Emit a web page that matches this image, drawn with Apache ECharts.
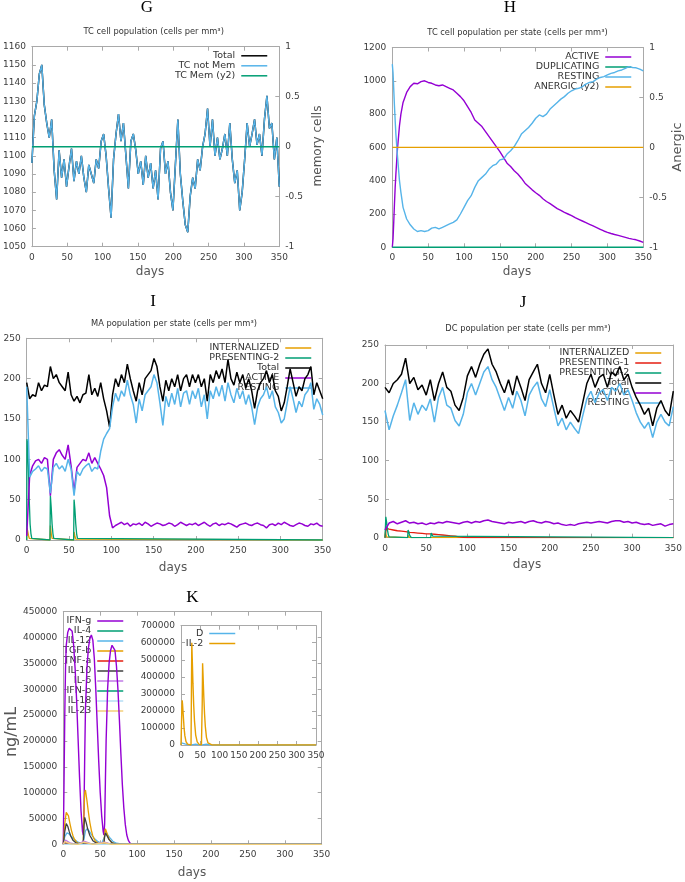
<!DOCTYPE html>
<html><head><meta charset="utf-8">
<script src="https://cdn.jsdelivr.net/npm/echarts@6/dist/echarts.min.js"></script>
<style>html,body{margin:0;padding:0;background:#fff}#c{width:685px;height:882px}</style>
</head><body><div id="c"></div>
<script>
// ---------- DATA ----------
// Panel G: TC cell population (sampled every 3.5 days, 0..350)
const gStep = 3.5;
const gTCnotMem = [1096,1122,1130,1145,1150,1128,1118,1110,1120,1092,1076,1103,1088,1098,1083,1094,1104,1086,1097,1090,
  1100,1088,1080,1095,1090,1085,1098,1093,1108,1112,1100,1082,1066,1098,1112,1123,1108,1118,1100,1082,
  1108,1112,1103,1090,1097,1084,1100,1088,1096,1082,1092,1076,1104,1108,1090,1097,1080,1070,1095,1120,
  1090,1075,1062,1058,1078,1088,1082,1098,1092,1105,1112,1126,1105,1120,1100,1110,1098,1104,1112,1100,
  1118,1098,1085,1092,1070,1080,1098,1118,1105,1112,1120,1106,1112,1100,1120,1133,1115,1118,1098,1110,1083];
const gTCMem = [0, 0];
const gTCMemDays = [0, 350];

// Panel H: TC cell population per state
const hDays = [0,1,2,3,4,5,7,10,12,15,20,25,30,35,40,45,50,55,60,65,70,75,80,85,90,95,100,105,110,115,120,125,130,135,140,145,150,155,160,165,170,175,180,185,190,195,200,205,210,215,220,225,230,235,240,245,250,255,260,265,270,275,280,285,290,295,300,305,310,315,320,325,330,335,340,345,350];
const hActive = [0,50,150,260,360,440,580,730,800,870,930,965,985,982,995,1000,990,985,975,970,975,965,955,945,925,905,880,845,810,765,745,725,695,665,635,605,575,540,505,485,460,440,415,385,365,345,328,312,292,275,262,247,232,222,210,200,190,178,168,158,148,138,128,118,108,98,90,83,77,72,66,60,54,49,45,38,30];
const hResting = [1100,1050,950,850,760,680,560,400,330,240,170,135,110,95,100,95,100,115,120,110,120,130,140,150,165,200,240,280,310,360,400,420,440,470,490,500,525,530,560,580,605,640,680,700,720,745,775,795,785,800,830,850,870,890,905,925,940,950,955,965,980,990,995,1010,1020,1025,1035,1045,1050,1060,1065,1075,1085,1080,1078,1070,1060];

// Panel I: MA population per state (sampled every 3.5 days)
const iStep = 3.5;
const iTotal = [195,175,180,178,195,185,192,190,215,200,205,195,190,185,208,180,172,178,170,180,
  182,205,180,188,178,195,175,160,140,180,200,190,205,195,218,200,185,172,195,180,
  200,205,210,225,215,190,172,198,185,200,190,205,185,200,205,190,205,195,205,190,
  200,172,205,195,210,200,212,195,224,200,192,208,195,205,188,200,185,163,185,195,
  200,210,195,205,185,178,160,170,190,212,195,178,190,185,200,205,215,180,195,185,175];
const iResting = [190,78,85,88,92,85,90,88,58,90,95,88,92,85,100,88,55,85,80,88,
  92,95,85,90,88,110,125,132,138,165,182,172,185,178,198,180,168,145,175,160,
  180,185,190,205,195,170,142,178,165,182,168,188,165,182,185,168,185,175,188,165,
  180,150,185,175,190,178,192,172,195,180,170,188,175,185,168,180,165,143,165,175,
  180,190,175,185,165,158,145,150,170,190,175,158,172,165,180,185,195,162,175,168,155];
const iActive = [5,80,92,98,100,95,102,100,55,100,108,112,105,100,118,92,60,90,95,100,98,108,95,102,95,88,80,65,30,15,
  18,20,22,19,21,17,20,19,21,18,22,20,17,19,21,20,18,19,21,20,17,19,22,20,18,20,19,21,18,20,
  22,19,17,20,21,18,20,19,21,20,18,16,19,20,21,19,18,20,21,19,18,15,19,20,18,21,19,22,20,18,
  17,19,21,20,18,17,20,19,21,18,17];
const iPres2Days = [0,0.3,1,2,3,4,5,6,8,27.5,28,29,30,31,32,34,55.5,56,57,58,59,60,62,350];
const iPres2 = [0,125,120,90,50,20,8,2,0,0,55,40,20,8,2,0,0,50,38,20,8,2,0,0];
const iIntDays = [0,0.3,1,2,3,4,27.5,28,29,30,31,55.5,56,57,58,59,350];
const iInt = [0,15,12,6,2,0,0,18,8,2,0,0,10,5,1,0,0];

// Panel J: DC population per state (sampled every 5 days)
const jStep = 5;
const jTotal = [195,188,200,205,212,233,200,208,192,198,185,205,178,200,215,195,190,172,165,182,
  210,222,208,225,238,245,225,215,200,188,205,185,210,195,178,205,215,225,200,188,
  212,185,160,172,155,165,158,150,175,200,212,195,208,212,195,215,210,222,205,212,
  195,182,172,160,168,145,168,178,165,158,190];
const jResting = [165,140,158,172,188,205,152,175,160,172,165,180,150,182,195,172,168,152,145,160,
  188,200,185,200,215,222,205,195,180,165,182,168,190,178,158,185,195,202,180,170,
  192,168,145,155,140,150,142,135,158,180,190,175,188,192,178,195,190,200,185,192,
  178,162,150,142,150,130,150,160,150,145,170];
const jActive = [10,19,21,18,20,22,19,20,18,19,17,19,18,20,19,21,20,19,18,20,
  21,19,21,20,22,23,21,20,19,18,20,19,20,21,19,21,22,20,19,21,
  20,18,19,17,16,17,16,18,19,20,19,20,21,20,19,21,22,22,20,21,
  19,20,18,17,18,16,17,18,15,17,18];
const jPres1Days = [0,1,2,5,10,15,20,25,30,35,40,45,50,55,60,65,70,75,80,85,90,95,100,350];
const jPres1 = [0,8,12,11,10,9,8.5,8,7,6.5,6,5.5,5,5,4.5,4,3.5,3,2.5,2,1,0.5,0,0];
const jPres2Days = [0,1,2,3,4,5,6,27.5,28,29,30,31,32,55.5,56,57,58,59,60,350];
const jPres2 = [0,27,20,10,4,1,0,0,10,7,3,1,0,0,6,4,2,0.5,0,0];
const jIntDays = [0,0.5,1,2,3,27.5,28,29,30,55.5,56,57,58,350];
const jInt = [0,8,5,1,0,0,3,1,0,0,2,0.5,0,0];

// Panel K: cytokines (ng/mL)
const kIFNgDays = [0,1,2,3,4,6,8,10,12,14,16,18,20,22,24,26,27,28,29,30,32,34,36,38,40,42,44,46,48,50,52,54,55,56,57,58,60,62,64,66,68,70,72,74,76,78,80,82,84,86,88,90,93,350];
const kIFNg = [0,120000,250000,340000,385000,410000,418000,420000,412000,385000,340000,280000,205000,130000,65000,25000,18000,60000,170000,260000,340000,380000,398000,405000,395000,360000,300000,230000,160000,100000,55000,25000,18000,40000,120000,200000,300000,350000,375000,385000,386000,375000,345000,300000,240000,175000,115000,70000,38000,18000,8000,3000,0,0];
const kTGFbDays = [0,2,4,5,7,9,11,13,15,18,22,27,28,29,30,32,34,36,38,40,43,47,55,56,57,58,60,62,65,70,75,350];
const kTGFb = [0,40000,62000,65000,55000,40000,27000,17000,10000,4000,1000,0,60000,100000,105000,85000,62000,42000,27000,16000,7000,2000,0,20000,30000,28000,18000,10000,4000,1000,0,0];
const kIL10Days = [0,2,4,6,8,10,13,17,22,27,28,29,31,33,36,40,45,55,56,57,59,62,66,72,80,350];
const kIL10 = [0,25000,40000,35000,25000,16000,8000,3000,500,0,35000,52000,42000,30000,17000,7000,2000,0,15000,22000,17000,9000,3000,500,0,0];
const kIL12Days = [0,2,5,8,11,15,20,25,28,30,32,35,38,42,47,52,56,58,60,63,67,72,80,90,350];
const kIL12 = [0,15000,22000,20000,15000,9000,4000,1500,10000,26000,30000,26000,19000,11000,5000,2000,15000,22000,20000,13000,6000,2000,300,0,0];
const kTNFaDays = [0,3,8,15,28,35,40,56,62,350];
const kTNFa = [0,3000,1000,0,3000,500,0,2000,0,0];
const kIL4Days = [0,4,15,28,40,56,70,350];
const kIL4 = [0,2000,500,3000,0,2000,0,0];
const kIL6Days = [0,3,10,20,28,40,56,66,350];
const kIL6 = [0,8000,2000,0,6000,0,4000,0,0];
const kIFNbDays = [0,350];
const kIFNb = [0,0];
const kIL18Days = [0,350];
const kIL18 = [0,0];
const kIL23Days = [0,2,10,20,28,40,56,65,350];
const kIL23 = [0,5000,1000,0,4000,0,3000,0,0];
// inset
const kDDays = [0,1,5,10,15,20,27,28,32,38,45,55,56,60,66,73,80,90,350];
const kD = [0,12000,10000,6000,3000,1000,500,12000,9000,5000,1500,500,12000,9000,5000,1500,300,0,0];
const kIL2Days = [0,2,3,4,6,8,10,13,17,22,26,27,28,29,31,33,35,38,42,47,53,54,55,56,57,59,61,63,66,70,75,80,85,350];
const kIL2 = [0,200000,262000,240000,170000,100000,55000,20000,5000,500,0,300000,600000,520000,360000,230000,140000,60000,18000,4000,300,0,240000,480000,420000,290000,185000,110000,45000,12000,2000,300,0,0];

// ---------- HELPERS ----------
function pairs(xs, ys){const n=Math.min(xs.length,ys.length);const o=[];for(let i=0;i<n;i++)o.push([xs[i],ys[i]]);return o;}
function stepPairs(step, ys){return ys.map((v,i)=>[i*step,v]);}
const plain = v => String(v);

const FONT='DejaVu Sans';
const BORDER='#a9a9a9';
const LBL='#3c3c3c';
const C={purple:'#9400D3',green:'#009E73',blue:'#56B4E9',orange:'#E69F00',red:'#E51E10',black:'#000000',grey:'#404040',lpurple:'#c07ae6',lblue:'#b5def5',lorange:'#f3cf7a'};

const grids=[
  {left:28.3,top:46.7,width:251,height:200},      // G 0
  {left:392.3,top:47.5,width:251,height:199.8},   // H 1
  {left:26.7,top:338.3,width:296,height:201.7},   // I 2
  {left:385,top:345,width:288.3,height:192.7},    // J 3
  {left:63.3,top:611.7,width:258.4,height:232.6}, // K 4
  {left:181,top:625.7,width:135,height:119.3}     // K inset 5
];

const xAxes=[], yAxes=[];
function xPair(g){
  const base={gridIndex:g,type:'value',min:0,max:350,interval:50,
    axisLine:{show:true,onZero:false,lineStyle:{color:BORDER,width:1}},
    axisTick:{show:true,inside:true,length:4,lineStyle:{color:BORDER}},
    splitLine:{show:false}};
  xAxes.push(Object.assign({},base,{position:'bottom',axisLabel:{color:LBL,fontSize:9,fontFamily:FONT,margin:6,formatter:plain}}));
  xAxes.push(Object.assign({},base,{position:'top',axisLabel:{show:false}}));
}
function yPair(g, min, max, interval, right){
  const base={gridIndex:g,type:'value',
    axisLine:{show:true,onZero:false,lineStyle:{color:BORDER,width:1}},
    axisTick:{show:true,inside:true,length:4,lineStyle:{color:BORDER}},
    splitLine:{show:false}};
  yAxes.push(Object.assign({},base,{position:'left',min,max,interval,
    axisLabel:{color:LBL,fontSize:9,fontFamily:FONT,margin:6,formatter:plain}}));
  if(right){
    yAxes.push(Object.assign({},base,{position:'right',min:right.min,max:right.max,interval:right.interval,
      axisLabel:{color:LBL,fontSize:9,fontFamily:FONT,margin:6,formatter:plain}}));
  } else {
    yAxes.push(Object.assign({},base,{position:'right',min,max,interval,axisLabel:{show:false}}));
  }
}
xPair(0); yPair(0,1050,1160,10,{min:-1,max:1,interval:0.5});
xPair(1); yPair(1,0,1200,200,{min:-1,max:1,interval:0.5});
xPair(2); yPair(2,0,250,50,null);
xPair(3); yPair(3,0,250,50,null);
xPair(4); yPair(4,0,450000,50000,null);
xPair(5); yPair(5,0,700000,100000,null);

function line(name, g, data, color, opts){
  opts=opts||{};
  return {name,type:'line',xAxisIndex:2*g,yAxisIndex:2*g+(opts.y2?1:0),data,
    symbol:'none',showSymbol:false,animation:false,silent:true,
    lineStyle:{color,width:opts.width||1.3},itemStyle:{color},z:opts.z||2};
}

const series=[
  // G
  line('Total',0,stepPairs(gStep,gTCnotMem),C.black,{width:1.5}),
  line('TC not Mem',0,stepPairs(gStep,gTCnotMem),C.blue,{width:1.4}),
  line('TC Mem (y2)',0,pairs(gTCMemDays,gTCMem),C.green,{y2:true,width:1.4}),
  // H
  line('ACTIVE',1,pairs(hDays,hActive),C.purple,{width:1.4}),
  line('DUPLICATING',1,pairs([0,350],[0,0]),C.green,{width:1.4}),
  line('RESTING',1,pairs(hDays,hResting),C.blue,{width:1.4}),
  line('ANERGIC (y2)',1,pairs([0,350],[0,0]),C.orange,{y2:true,width:1.4}),
  // I
  line('INTERNALIZED',2,pairs(iIntDays,iInt),C.orange),
  line('PRESENTING-2',2,pairs(iPres2Days,iPres2),C.green),
  line('Total',2,stepPairs(iStep,iTotal),C.black,{width:1.5}),
  line('ACTIVE',2,stepPairs(iStep,iActive),C.purple,{width:1.5}),
  line('RESTING',2,stepPairs(iStep,iResting),C.blue,{width:1.5}),
  // J
  line('INTERNALIZED',3,pairs(jIntDays,jInt),C.orange),
  line('PRESENTING-1',3,pairs(jPres1Days,jPres1),C.red),
  line('PRESENTING-2',3,pairs(jPres2Days,jPres2),C.green),
  line('Total',3,stepPairs(jStep,jTotal),C.black,{width:1.5}),
  line('ACTIVE',3,stepPairs(jStep,jActive),C.purple,{width:1.5}),
  line('RESTING',3,stepPairs(jStep,jResting),C.blue,{width:1.5}),
  // K main
  line('IFN-g',4,pairs(kIFNgDays,kIFNg),C.purple,{width:1.4}),
  line('IL-4',4,pairs(kIL4Days,kIL4),C.green),
  line('IL-12',4,pairs(kIL12Days,kIL12),C.blue),
  line('TGF-b',4,pairs(kTGFbDays,kTGFb),C.orange),
  line('TNF-a',4,pairs(kTNFaDays,kTNFa),C.red),
  line('IL-10',4,pairs(kIL10Days,kIL10),C.grey),
  line('IL-6',4,pairs(kIL6Days,kIL6),C.lpurple),
  line('IFN-b',4,pairs(kIFNbDays,kIFNb),C.green),
  line('IL-18',4,pairs(kIL18Days,kIL18),C.lblue),
  line('IL-23',4,pairs(kIL23Days,kIL23),C.lorange),
  // K inset
  line('D',5,pairs(kDDays,kD),C.blue),
  line('IL-2',5,pairs(kIL2Days,kIL2),C.orange,{width:1.4})
];

function legend(names, right, top, gap){
  return {data:names,orient:'vertical',right,top,align:'right',itemWidth:26,itemHeight:gap,itemGap:0,
    selectedMode:false,z:1,padding:0,
    itemStyle:{opacity:0,borderWidth:0},
    lineStyle:{width:1.5},
    textStyle:{fontSize:9.5,color:'#333',fontFamily:FONT,padding:[0,1,0,0]}};
}
const legends=[
  legend(['Total','TC not Mem','TC Mem (y2)'],417,50.8,10.8),
  legend(['ACTIVE','DUPLICATING','RESTING','ANERGIC (y2)'],53,52,10.7),
  legend(['INTERNALIZED','PRESENTING-2','Total','ACTIVE','RESTING'],373,343,10.8),
  legend(['INTERNALIZED','PRESENTING-1','PRESENTING-2','Total','ACTIVE','RESTING'],23,348,10.2),
  legend(['IFN-g','IL-4','IL-12','TGF-b','TNF-a','IL-10','IL-6','IFN-b','IL-18','IL-23'],561,616,10.9),
  legend(['D','IL-2'],449,628.5,11)
];

function txt(text,x,y,font,fill,rot){
  const el={type:'text',x,y,silent:true,style:{text,font,fill:fill||'#333',align:'center',verticalAlign:'middle'}};
  if(rot) el.rotation=rot;
  return el;
}
const SERIF='17px "Liberation Serif"';
const SUB='8.3px "DejaVu Sans"';
const AX='12px "DejaVu Sans"';
const graphics=[
  txt('G',147,8,SERIF,'#000'), txt('H',510,8,SERIF,'#000'), txt('I',153,302,SERIF,'#000'),
  txt('J',523,302.5,SERIF,'#000'), txt('K',192.5,597.5,SERIF,'#000'),
  txt('TC cell population (cells per mm³)',153.7,31.7,SUB),
  txt('TC cell population per state (cells per mm³)',517.5,33.3,SUB),
  txt('MA population per state (cells per mm³)',174,324,SUB),
  txt('DC population per state (cells per mm³)',528,329,SUB),
  txt('days',150,272,AX,'#555'), txt('days',517,272,AX,'#555'),
  txt('days',173,567.7,AX,'#555'), txt('days',527,565,AX,'#555'), txt('days',192,873,AX,'#555'),
  txt('memory cells',318,146,AX,'#555',Math.PI/2),
  txt('Anergic',678,147,'13px "DejaVu Sans"','#555',Math.PI/2),
  txt('ng/mL',12,732,'16px "DejaVu Sans"','#555',Math.PI/2)
];

const chart=echarts.init(document.getElementById('c'),null,{renderer:'canvas',width:685,height:882});
chart.setOption({animation:false,backgroundColor:'#fff',grid:grids,xAxis:xAxes,yAxis:yAxes,series,legend:legends,graphic:graphics});
</script></body></html>
